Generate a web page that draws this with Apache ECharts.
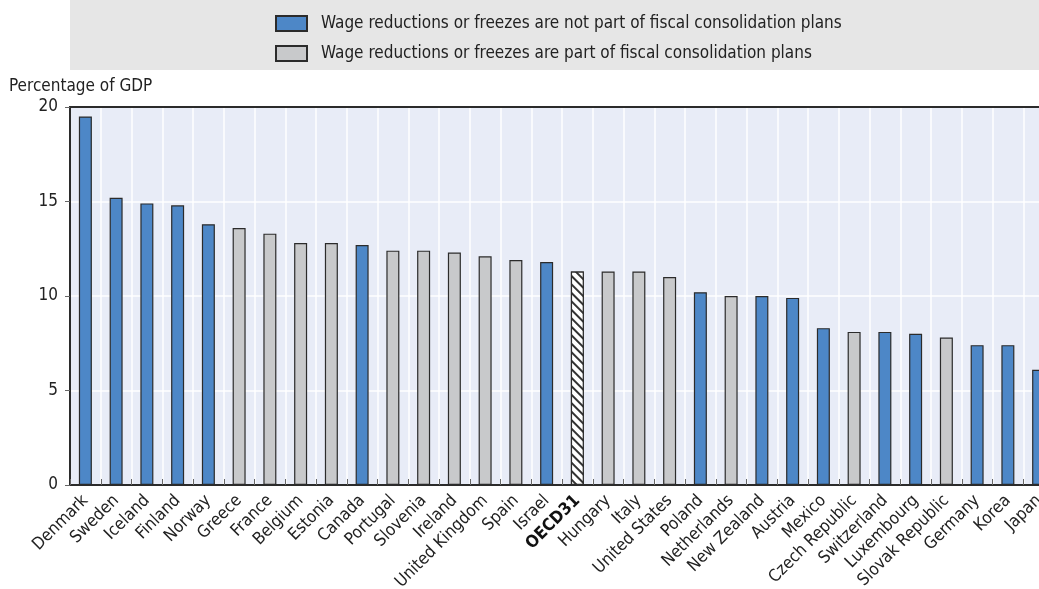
<!DOCTYPE html>
<html><head><meta charset="utf-8">
<script src="https://cdn.jsdelivr.net/npm/echarts@6/dist/echarts.min.js"></script>
<style>html,body{margin:0;padding:0;background:#fff}#c{width:1039px;height:589px}</style>
</head><body><div id="c"></div>
<script>
const categories = ["Denmark","Sweden","Iceland","Finland","Norway","Greece","France","Belgium","Estonia","Canada","Portugal","Slovenia","Ireland","United Kingdom","Spain","Israel","OECD31","Hungary","Italy","United States","Poland","Netherlands","New Zealand","Austria","Mexico","Czech Republic","Switzerland","Luxembourg","Slovak Republic","Germany","Korea","Japan"];
const values = [19.5,15.2,14.9,14.8,13.8,13.6,13.3,12.8,12.8,12.7,12.4,12.4,12.3,12.1,11.9,11.8,11.3,11.3,11.3,11.0,10.2,10.0,10.0,9.9,8.3,8.1,8.1,8.0,7.8,7.4,7.4,6.1];
// n = not part of plans, p = part of plans, avg = OECD average
const groups = ["n","n","n","n","n","p","p","p","p","n","p","p","p","p","p","n","avg","p","p","p","n","p","n","n","n","p","n","n","p","n","n","n"];
const seriesNames = ["Wage reductions or freezes are not part of fiscal consolidation plans","Wage reductions or freezes are part of fiscal consolidation plans"];
const yTicks = [0,5,10,15,20];

const FONT = "'DejaVu Sans Condensed','Liberation Sans Narrow',sans-serif";
const BLUE = '#4d87c7', GREY = '#c8c9cb', EDGE = '#2b2b2b';

const sN = values.map((v,i)=>groups[i]==='n'?v:null);
const sP = values.map((v,i)=>groups[i]==='p'?v:null);
const sA = values.map((v,i)=>groups[i]==='avg'?v:null);

const chart = echarts.init(document.getElementById('c'), null, {renderer:'canvas'});
chart.setOption({
  animation:false,
  backgroundColor:'#fff',
  graphic:[
    {type:'rect', shape:{x:70,y:0,width:1000,height:70}, style:{fill:'#e6e6e6'}, z:-10},
    {type:'text', left:9, top:78, style:{text:'Percentage of GDP', font:"17px "+FONT, fill:'#222'}}
  ],
  legend:{
    orient:'vertical', left:275, top:15, padding:0, itemWidth:31, itemHeight:15, itemGap:13,
    icon:'rect',
    textStyle:{fontFamily:FONT, fontSize:17, lineHeight:15, color:'#222', padding:[0,0,0,9]},
    data:seriesNames
  },
  grid:{left:70, top:107, width:984, height:378, outerBoundsMode:'none', containLabel:false,
    show:true, backgroundColor:'#e8ecf7', borderColor:EDGE, borderWidth:2},
  xAxis:[{
    type:'category', data:categories,
    axisLine:{show:true, lineStyle:{color:EDGE, width:2}},
    axisTick:{show:true, inside:true, length:6, lineStyle:{color:'#666'}},
    splitLine:{show:true, lineStyle:{color:'#ffffff', width:1.5}},
    axisLabel:{rotate:45, margin:13, fontFamily:FONT, fontSize:17, color:'#222', interval:0,
      formatter:(v)=> v==='OECD31' ? '{b|'+v+'}' : v,
      rich:{b:{fontWeight:'bold', fontFamily:FONT, fontSize:17, color:'#111'}}}
  },{
    type:'category', data:categories, position:'top',
    axisLine:{show:true, lineStyle:{color:EDGE, width:2}},
    axisTick:{show:false}, axisLabel:{show:false}, splitLine:{show:false}
  }],
  yAxis:{
    type:'value', min:0, max:20, interval:5,
    axisLine:{show:true, lineStyle:{color:EDGE, width:2}},
    axisTick:{show:true, length:5, lineStyle:{color:'#666'}},
    splitLine:{show:true, lineStyle:{color:'#ffffff', width:1.5}},
    axisLabel:{margin:12, fontFamily:FONT, fontSize:17, color:'#222'}
  },
  series:[
    {name:seriesNames[0], type:'bar', stack:'a', data:sN, barWidth:13,
      itemStyle:{color:BLUE, borderColor:EDGE, borderWidth:1.2}},
    {name:seriesNames[1], type:'bar', stack:'a', data:sP, barWidth:13,
      itemStyle:{color:GREY, borderColor:EDGE, borderWidth:1.2}},
    {name:'OECD31', type:'bar', stack:'a', data:sA, barWidth:13,
      itemStyle:{color:'#ffffff', borderColor:EDGE, borderWidth:1.2,
        decal:{symbol:'rect', dashArrayX:[1,0], dashArrayY:[1.5,3.5], rotation:Math.PI/4, color:'#333', backgroundColor:'#ffffff'}}}
  ]
});
</script></body></html>
